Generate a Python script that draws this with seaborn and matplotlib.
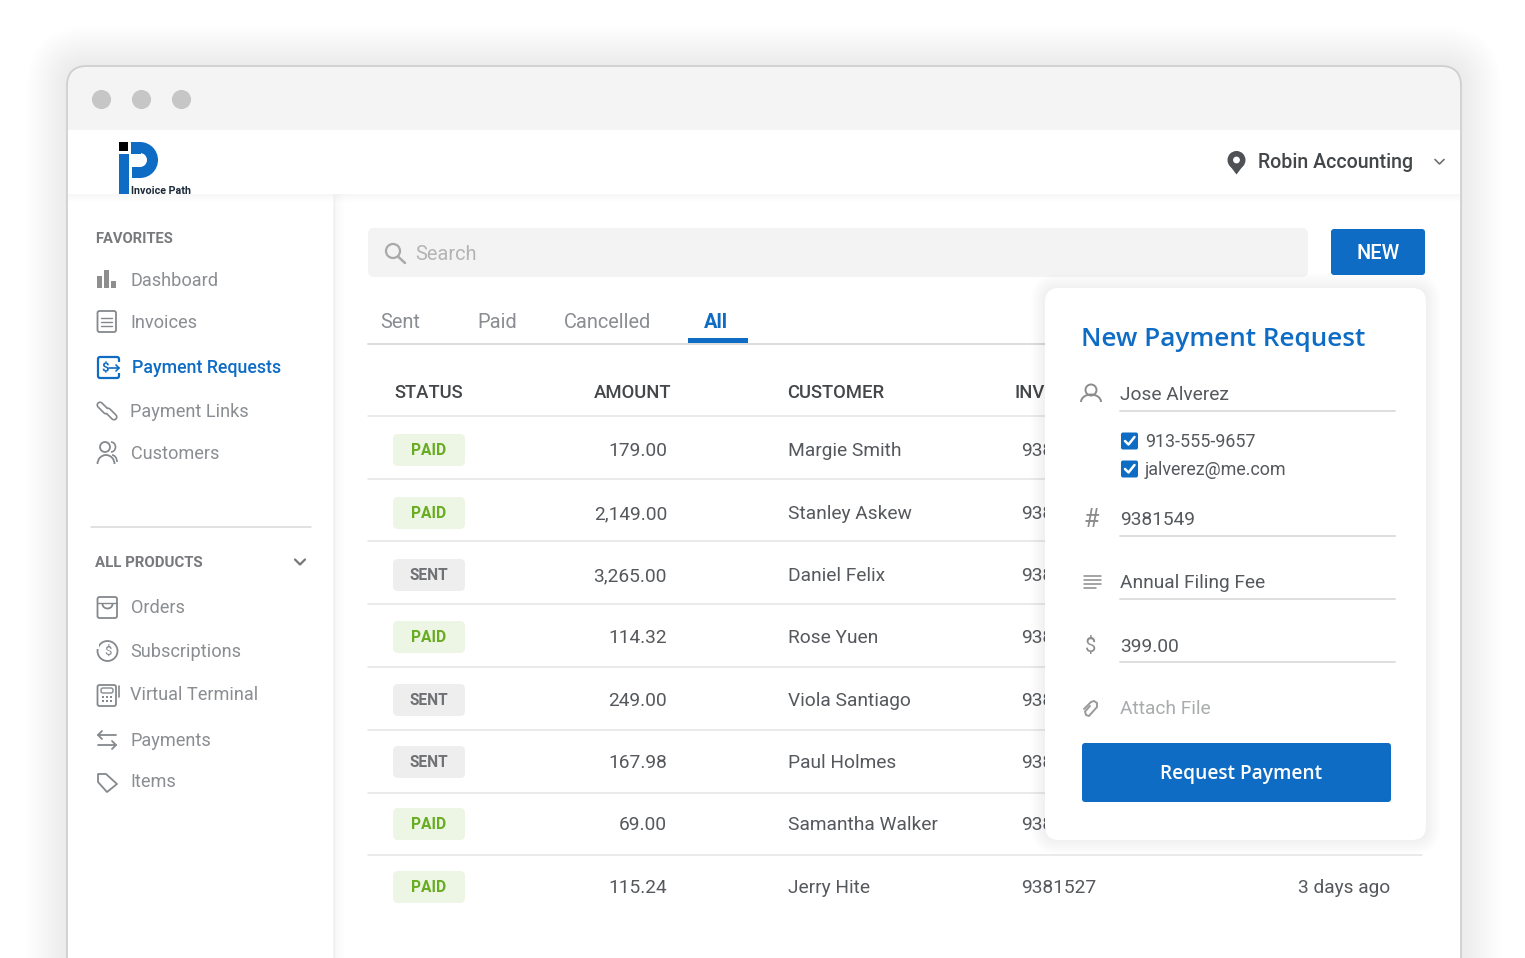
import matplotlib
matplotlib.use('Agg')
import matplotlib.pyplot as plt
import numpy as np
import pandas as pd
import seaborn as sns
from matplotlib.patches import Circle, FancyBboxPatch, Polygon, Rectangle, Arc, Wedge

# table contents
statuses = ['PAID', 'PAID', 'SENT', 'PAID', 'SENT', 'SENT', 'PAID', 'PAID']
amounts = ['179.00', '2,149.00', '3,265.00', '114.32', '249.00', '167.98', '69.00', '115.24']
customers = ['Margie Smith', 'Stanley Askew', 'Daniel Felix', 'Rose Yuen',
             'Viola Santiago', 'Paul Holmes', 'Samantha Walker', 'Jerry Hite']
invoices = ['938', '938', '938', '938', '938', '938', '938', '9381527']
row_y = [450, 513, 575, 637, 700, 762, 824, 887]
row_lines = [416, 479, 541, 604, 667, 730, 793, 855]

headers = ['STATUS', 'AMOUNT', 'CUSTOMER', 'INVOICE']
header_x = [394, 594, 787, 1015]
tabs = ['Sent', 'Paid', 'Cancelled']
tab_x = [381, 478, 564]

fav_items = ['Dashboard', 'Invoices', 'Payment Requests', 'Payment Links', 'Customers']
fav_y = [279.5, 321.5, 367.5, 410.5, 452.5]
prod_items = ['Orders', 'Subscriptions', 'Virtual Terminal', 'Payments', 'Items']
prod_y = [606.5, 650.5, 693.5, 739.5, 780.5]

dots = pd.DataFrame({'x': [101, 141, 181], 'y': [98.5, 98.5, 98.5]})

BLUE = '#0f6cc5'
GREY = '#8a8d91'
TEXT = '#55585c'
DARK = '#44474a'
ICON = '#85888c'

sns.set_theme(style='white')
plt.rcParams['font.family'] = ['Roboto', 'DejaVu Sans']
plt.rcParams['patch.linewidth'] = 0

fig = plt.figure(figsize=(15.25, 9.58), dpi=100)
ax = fig.add_axes([0, 0, 1, 1])
ax.set_xlim(0, 1525)
ax.set_ylim(958, 0)
ax.axis('off')


def rrect(x0, y0, x1, y1, r, fc, ec='none', lw=0, z=1, alpha=None):
    p = FancyBboxPatch((x0 + r, y0 + r), x1 - x0 - 2 * r, y1 - y0 - 2 * r,
                       boxstyle='round,pad=%f,rounding_size=%f' % (r, r),
                       fc=fc, ec=ec, lw=lw, zorder=z, alpha=alpha)
    ax.add_patch(p)


def shadow(x0, y0, x1, y1, r, spread, strength, z):
    for s in range(spread, 0, -2):
        rrect(x0 - s, y0 - s, x1 + s, y1 + s, r + s, '#000000', z=z, alpha=strength)


def t(x, y, s, px, color=TEXT, ha='left', weight='normal', family=None, z=5):
    # y is the middle of the capitals, size is given in pixels
    kw = {'family': family} if family else {}
    ax.text(x, y + 0.33 * px, s, fontsize=px * 0.72, color=color, ha=ha, va='baseline',
            fontweight=weight, zorder=z, **kw)


def line(xs, ys, color=ICON, lw=1.3, z=5):
    ax.plot(xs, ys, color=color, lw=lw, zorder=z, solid_capstyle='round', solid_joinstyle='round')


def ring(x, y, r, color=ICON, lw=1.3, z=5):
    ax.add_patch(Circle((x, y), r, fc='none', ec=color, lw=lw, zorder=z))


def box(x0, y0, x1, y1, color=ICON, lw=1.3, r=2, z=5):
    rrect(x0, y0, x1, y1, r, 'none', ec=color, lw=lw, z=z)


# window
shadow(67, 66, 1461, 1010, 22, 40, 0.0022, 1)
rrect(67, 66, 1461, 1010, 20, '#ffffff', z=2)
rrect(67, 66, 1461, 160, 20, '#f4f4f4', z=2.1)
ax.add_patch(Rectangle((67, 130), 1394, 40, fc='#ffffff', zorder=2.2))
rrect(67, 66, 1461, 1010, 20, 'none', ec='#cdcdcd', lw=1.2, z=2.6)
sns.scatterplot(data=dots, x='x', y='y', s=190, color='#c6c6c6', linewidth=0, ax=ax, zorder=3, legend=False)
ax.set_xlim(0, 1525)
ax.set_ylim(958, 0)
ax.axis('off')

# soft edges of header and sidebar
for i in range(8):
    ax.add_patch(Rectangle((333, 194), 1 + i * 1.5, 764, fc='#000000', alpha=0.004, zorder=2.3))
    ax.add_patch(Rectangle((68, 194), 1392, 1 + i, fc='#000000', alpha=0.004, zorder=2.4))
line([333.5, 333.5], [195, 958], color='#f0f0f0', lw=1, z=2.5)

# logo
ax.add_patch(Rectangle((119, 142), 9, 9, fc='#000000', zorder=4))
ax.add_patch(Rectangle((119, 154), 10, 40, fc=BLUE, zorder=4))
ax.add_patch(Wedge((140, 160), 18, -90, 90, width=11, fc=BLUE, zorder=4))
ax.add_patch(Rectangle((131, 142), 9.5, 12, fc=BLUE, zorder=4))
ax.add_patch(Rectangle((132, 167), 8.5, 11, fc=BLUE, zorder=4))
t(131, 190, 'Invoice Path', 10.7, color='#1d2a3a', weight='bold')

# account
ax.add_patch(Circle((1236.5, 160), 9, fc='#4f5255', zorder=5))
ax.add_patch(Polygon([[1228.2, 163.5], [1244.8, 163.5], [1236.5, 174.5]], fc='#4f5255', zorder=5))
ax.add_patch(Circle((1236.5, 160), 3.4, fc='#ffffff', zorder=6))
t(1258, 162, 'Robin Accounting', 19.6, color=DARK, weight='medium')
line([1435, 1439.5, 1444], [159.5, 164, 159.5], color='#707070', lw=1.2)

# sidebar
t(95, 238, 'FAVORITES', 14.8, color='#77797c', weight='bold')
for name, y in zip(fav_items, fav_y):
    active = name == 'Payment Requests'
    if active:
        t(132, y, name, 17.8, color=BLUE, weight='medium')
    else:
        t(130.5, y, name, 18.2, color=GREY)

line([91, 311], [526.5, 526.5], color='#d9d9d9', lw=1.1)
t(95, 562, 'ALL PRODUCTS', 15, color='#77797c', weight='bold')
line([295, 300, 305], [559.5, 564.5, 559.5], color='#777777', lw=1.6)
for name, y in zip(prod_items, prod_y):
    t(130.5, y, name, 18.2, color=GREY)

# sidebar icons
for x0, h in zip([97, 104, 111], [12, 18, 7]):
    ax.add_patch(Rectangle((x0, 288 - h), 4.8, h, fc='#8e8e8e', zorder=5))
box(97.5, 311, 116, 332)
for yy in [318, 322, 326]:
    line([101, 112], [yy, yy], lw=1)
box(98, 357, 119, 378, color=BLUE, lw=1.6)
ax.add_patch(Rectangle((112, 362), 9, 11, fc='#ffffff', zorder=5.1))
t(101, 367.5, '$', 13, color=BLUE, weight='bold', z=6)
line([109, 119], [368, 368], color=BLUE, lw=1.2, z=6)
line([116, 119, 116], [365, 368, 371], color=BLUE, lw=1.2, z=6)
# chain links
for xs, ys in [([100, 106], [405, 411]), ([108, 114], [411, 417])]:
    line(xs, ys, lw=5.2, z=5)
    line(xs, ys, color='#ffffff', lw=2.8, z=5.1)
ring(105, 447, 5)
ax.add_patch(Arc((106, 464), 17, 18, theta1=180, theta2=360, ec=ICON, lw=1.3, zorder=5))
ax.add_patch(Arc((111, 447), 9, 10, theta1=-90, theta2=90, ec=ICON, lw=1.2, zorder=5))
ax.add_patch(Arc((112, 462), 10, 14, theta1=270, theta2=360, ec=ICON, lw=1.2, zorder=5))
box(97.5, 597, 117, 618)
line([97.5, 117], [603, 603], lw=1)
ax.add_patch(Arc((107.5, 604), 10, 9, theta1=0, theta2=180, ec=ICON, lw=1.3, zorder=5))
ring(107.5, 651, 10)
ax.add_patch(Rectangle((94, 644), 5, 5, fc='#ffffff', zorder=5.1))
t(107.5, 651, '$', 13, color=ICON, ha='center', z=6)
box(97.5, 685, 116, 706)
box(101, 688, 113, 693, lw=1)
for xx in [103, 107, 111]:
    for yy in [697, 701]:
        ax.add_patch(Rectangle((xx - 1.3, yy - 1.3), 2.6, 2.6, fc=ICON, zorder=6))
line([118.5, 118.5], [686, 697], lw=1.2)
line([98, 116], [735, 735], lw=1.3)
line([102, 98, 102], [731, 735, 739], lw=1.3)
line([98, 116], [745, 745], lw=1.3)
line([112, 116, 112], [741, 745, 749], lw=1.3)
ax.add_patch(Polygon([[98, 774], [106, 774], [117, 784], [107, 792], [98, 782]], fc='none', ec=ICON, lw=1.3, zorder=5, joinstyle='round'))

# search row
rrect(368, 228, 1308, 277, 6, '#f3f3f3', z=3)
ring(393, 251, 7, color='#a9a9a9', lw=1.6)
line([398, 405], [256.5, 263], color='#a9a9a9', lw=1.8)
t(415, 253, 'Search', 20, color='#b4b4b4')
rrect(1331, 229, 1425, 275, 3, BLUE, z=3)
t(1378, 252, 'NEW', 20, color='#ffffff', ha='center', weight='medium')

# tabs
for name, x in zip(tabs, tab_x):
    t(x - 0.5, 321, name, 20, color=GREY)
t(704, 321, 'All', 20, color=BLUE, weight='bold')
line([368, 1045], [344, 344], color='#dcdcdc', lw=1.4, z=3)
ax.add_patch(Rectangle((688, 338), 60, 5, fc=BLUE, zorder=4))

# table
for name, x in zip(headers, header_x):
    t(x, 391.5, name, 18.5, color=DARK, weight='medium')
for y in row_lines:
    line([368, 1422], [y, y], color='#e4e4e4', lw=1.1, z=3)
for i, y in enumerate(row_y):
    paid = statuses[i] == 'PAID'
    rrect(393, y - 16, 465, y + 16, 5, '#edf6e4' if paid else '#eeeeee', z=3)
    t(429, y, statuses[i], 15.5, color='#68ac22' if paid else '#6f7174', ha='center', weight='bold')
    t(667, y, amounts[i], 19.2, color=TEXT, ha='right')
    t(788, y, customers[i], 19.2, color=TEXT)
    t(1021.5, y, invoices[i], 19.2, color=TEXT)
t(1390, 887, '3 days ago', 19.2, color=TEXT, ha='right')

# payment panel
shadow(1045, 288, 1426, 840, 14, 14, 0.006, 6)
rrect(1045, 288, 1426, 840, 14, '#ffffff', z=7)
t(1081, 337, 'New Payment Request', 26.1, color=BLUE, weight='semibold', family='Open Sans', z=9)

t(1120, 394, 'Jose Alverez', 19.2, z=9)
t(1120, 519, '9381549', 19.2, z=9)
t(1120, 582, 'Annual Filing Fee', 19.2, z=9)
t(1120, 646, '399.00', 19.2, z=9)
t(1120, 708, 'Attach File', 19.2, color='#a9abad', z=9)
for y in [411, 536, 599, 662]:
    line([1120, 1395], [y, y], color='#dedede', lw=1.4, z=8)

for y, label in zip([441, 469], ['913-555-9657', 'jalverez@me.com']):
    rrect(1121, y - 8.5, 1138, y + 8.5, 2, BLUE, z=8)
    line([1125, 1128.5, 1134.5], [y, y + 3.5, y - 4], color='#ffffff', lw=1.8, z=9)
    t(1145, y, label, 17.9, z=9)

ring(1091, 390, 5.5, color='#8c8c8c', lw=1.4, z=9)
ax.add_patch(Arc((1091, 402), 20, 15, theta1=180, theta2=360, ec='#8c8c8c', lw=1.4, zorder=9))
t(1091, 519, '#', 25, color='#8c8c8c', ha='center', z=9)
for y, x1 in zip([576, 580, 584, 588], [1101, 1101, 1101, 1096]):
    line([1083.5, x1], [y, y], color='#8c8c8c', lw=1.1, z=9)
t(1091, 645, '$', 20, color='#8c8c8c', ha='center', z=9)
line([1090, 1085, 1086, 1089, 1097, 1097, 1094, 1091, 1084],
     [706, 711.5, 715, 716, 707, 703, 701, 702, 709], color='#9a9a9a', lw=1.4, z=9)

rrect(1082, 743, 1391, 802, 3, BLUE, z=8)
t(1241, 773, 'Request Payment', 19.2, color='#ffffff', ha='center', weight='semibold', family='Open Sans', z=9)

fig.savefig('out.png', dpi=100, facecolor='white')
